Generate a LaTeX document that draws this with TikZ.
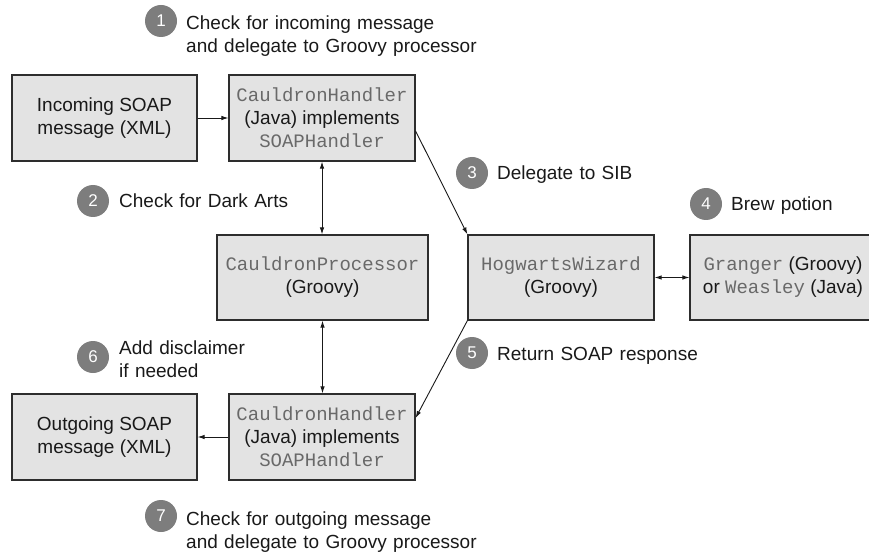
\documentclass[tikz,border=0pt]{standalone}
\usepackage{fontspec}
\setmainfont{Liberation Sans}
\setmonofont{Liberation Mono}
\usetikzlibrary{arrows.meta}
\definecolor{boxfill}{RGB}{227,227,227}
\definecolor{boxline}{RGB}{45,45,45}
\definecolor{bullet}{RGB}{125,125,125}
\definecolor{codegray}{RGB}{105,105,105}
\definecolor{ink}{RGB}{25,25,25}
\newcommand{\cd}[1]{{\ttfamily\color{codegray}#1}}
\begin{document}
\begin{tikzpicture}[x=1pt,y=-1pt,
  box/.style={draw=boxline, fill=boxfill, line width=1.2pt, minimum height=86pt, inner sep=0pt, align=center, text=ink, font=\fontsize{19}{23}\selectfont},
  num/.style={circle, fill=bullet, minimum size=32pt, inner sep=0pt, text=white, font=\fontsize{17}{17}\selectfont},
  lbl/.style={anchor=base west, text width=340pt, align=left, inner sep=0pt, text=ink, font=\fontsize{19}{23}\selectfont},
  tip/.style={line width=0.9pt, draw=ink, -{Latex[length=7pt,width=4.5pt]}},
  bitip/.style={line width=0.9pt, draw=ink, {Latex[length=7pt,width=4.5pt]}-{Latex[length=7pt,width=4.5pt]}}]
\clip (0,0) rectangle (869,553);
% boxes
\node[box, minimum width=185pt] (inc) at (104.5,118) {Incoming SOAP\\message (XML)};
\node[box, minimum width=186pt] (ch1) at (322,118) {\cd{CauldronHandler}\\(Java) implements\\\cd{SOAPHandler}};
\node[box, minimum width=211pt, minimum height=85pt] (proc) at (322.5,277.5) {\cd{CauldronProcessor}\\(Groovy)};
\node[box, minimum width=186pt, minimum height=85pt] (hog) at (561,277.5) {\cd{HogwartsWizard}\\(Groovy)};
\node[box, minimum width=186pt, minimum height=85pt] (gr) at (783,277.5) {\cd{Granger} (Groovy)\\or \cd{Weasley} (Java)};
\node[box, minimum width=185pt] (out) at (104.5,437) {Outgoing SOAP\\message (XML)};
\node[box, minimum width=186pt] (ch2) at (322,437) {\cd{CauldronHandler}\\(Java) implements\\\cd{SOAPHandler}};
% connectors
\draw[tip] (inc.east) -- (ch1.west);
\draw[bitip] (ch1.south) -- (ch1.south |- proc.north);
\draw[bitip] (proc.south) -- (proc.south |- ch2.north);
\draw[tip] ([yshift=-13pt]ch1.east) -- (hog.north west);
\draw[bitip] (hog.east) -- (gr.west);
\draw[tip] (hog.south west) -- ([yshift=19pt]ch2.east);
\draw[tip] (ch2.west) -- (out.east);
% numbered notes
\node[num] (n1) at (161,21) {1};
\node[lbl] (t1) at (186,30) {Check for incoming message\\and delegate to Groovy processor};
\node[num] (n2) at (93,201) {2};
\node[lbl] (t2) at (119,208) {Check for Dark Arts};
\node[num] (n3) at (472,173) {3};
\node[lbl] (t3) at (497,180) {Delegate to SIB};
\node[num] (n4) at (706,204) {4};
\node[lbl] (t4) at (731,211) {Brew potion};
\node[num] (n5) at (472,353) {5};
\node[lbl] (t5) at (497,360) {Return SOAP response};
\node[num] (n6) at (93,357) {6};
\node[lbl] (t6) at (119,354) {Add disclaimer\\if needed};
\node[num] (n7) at (161,516) {7};
\node[lbl] (t7) at (186,525) {Check for outgoing message\\and delegate to Groovy processor};
\end{tikzpicture}
\end{document}
